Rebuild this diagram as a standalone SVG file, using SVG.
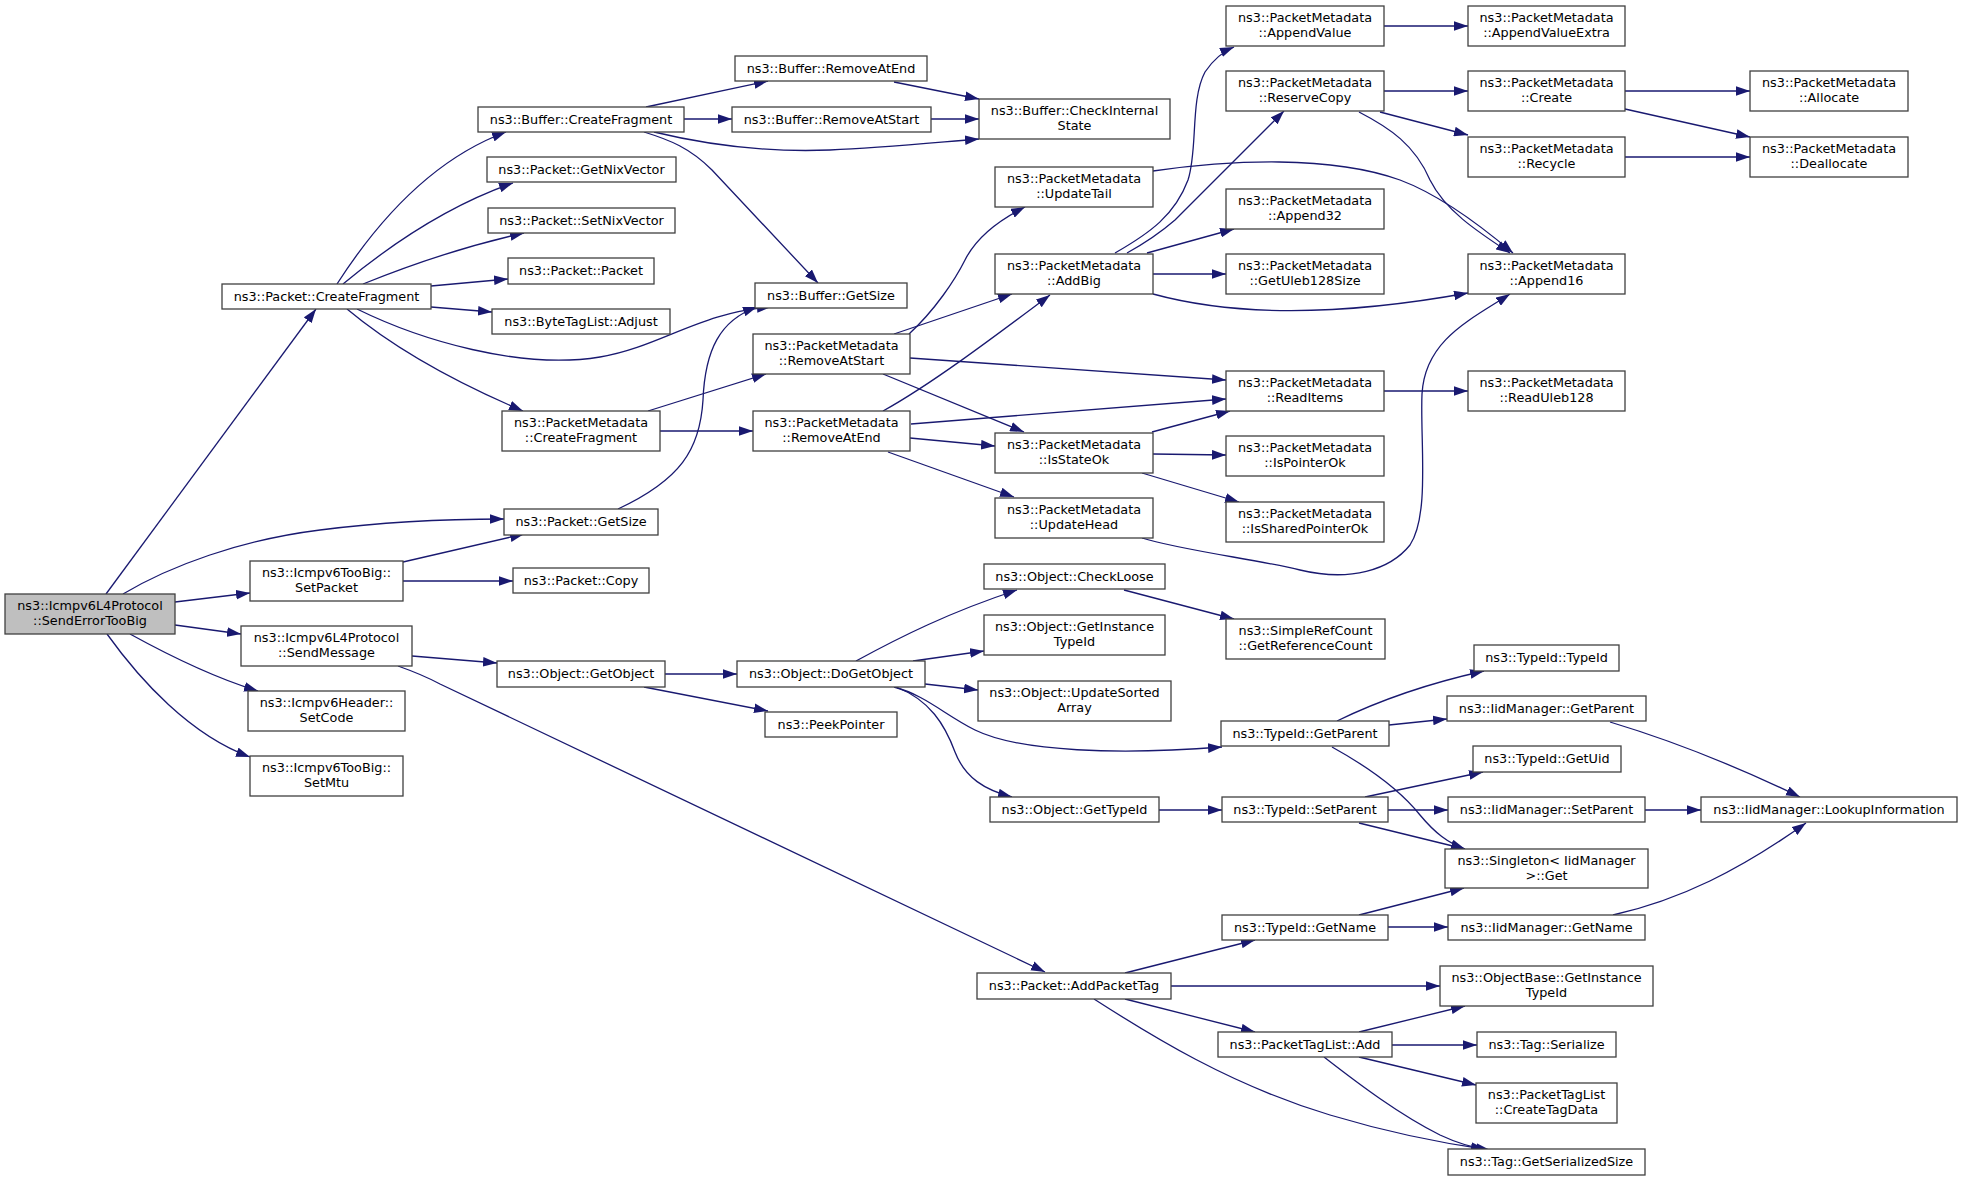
<svg xmlns="http://www.w3.org/2000/svg" width="1963" height="1181" viewBox="0 0 1963 1181">
<defs>
<marker id="ah" markerUnits="userSpaceOnUse" markerWidth="14" markerHeight="10" viewBox="0 0 13 9" refX="13" refY="4.5" orient="auto">
<path d="M0,0 L13,4.5 L0,9 z" fill="#191970"/>
</marker>
<style>
.node rect{fill:#ffffff;stroke:#404040;stroke-width:1.3}
.root rect{fill:#bfbfbf}
.node text{font-family:"DejaVu Sans",Verdana,sans-serif;font-size:12.8px;fill:#000;text-anchor:middle}
.edges path{fill:none;stroke:#191970;stroke-width:1.3;marker-end:url(#ah)}
</style>
</defs>
<rect width="1963" height="1181" fill="#ffffff"/>
<g class="edges" id="edges">
<path d="M106,594 L316,309"/>
<path d="M123,594 C170,566 240,540 320,530 C390,521 450,519 504,519"/>
<path d="M175,602 L250,593"/>
<path d="M175,625 L241,634"/>
<path d="M130,634 C170,656 215,678 258,691"/>
<path d="M107,634 C140,680 190,735 250,757"/>
<path d="M337,284 C375,225 430,160 506,132"/>
<path d="M343,284 C390,245 450,205 513,183"/>
<path d="M363,284 C410,265 470,245 524,233"/>
<path d="M431,286 L508,279"/>
<path d="M431,307 L492,312"/>
<path d="M357,309 C420,340 520,370 600,357 C660,347 700,312 771,307"/>
<path d="M618,509 C680,480 700,450 703,400 C705,350 720,320 757,307"/>
<path d="M347,309 C390,345 450,380 523,411"/>
<path d="M646,107 L768,81"/>
<path d="M684,119 L732,119"/>
<path d="M654,132 C720,148 780,152 830,150 C880,148 930,143 979,139"/>
<path d="M644,132 C670,140 690,148 712,170 L818,283"/>
<path d="M894,82 L979,99"/>
<path d="M931,119 L979,119"/>
<path d="M648,411 L766,374"/>
<path d="M660,431 L753,431"/>
<path d="M403,562 L524,534"/>
<path d="M403,581 L513,581"/>
<path d="M412,656 L497,663"/>
<path d="M398,666 C415,672 425,676 440,684 L1045,972"/>
<path d="M665,674 L737,674"/>
<path d="M644,687 L768,711"/>
<path d="M856,661 C900,637 950,612 1017,590"/>
<path d="M913,661 L984,651"/>
<path d="M925,684 L978,690"/>
<path d="M894,687 C925,695 945,715 975,730 C1020,752 1120,755 1222,747"/>
<path d="M896,687 C930,700 945,725 955,752 C965,778 985,790 1012,797"/>
<path d="M1124,590 L1234,619"/>
<path d="M1337,721 C1380,700 1430,683 1484,671"/>
<path d="M1389,725 L1447,719"/>
<path d="M1332,747 C1370,768 1400,790 1420,815 C1435,833 1448,843 1465,849"/>
<path d="M1365,797 L1483,772"/>
<path d="M1388,810 L1448,810"/>
<path d="M1359,823 L1465,849"/>
<path d="M1159,810 L1222,810"/>
<path d="M1359,915 L1464,888"/>
<path d="M1388,927 L1448,927"/>
<path d="M1610,722 C1670,740 1740,768 1800,797"/>
<path d="M1645,810 L1701,810"/>
<path d="M1613,915 C1680,900 1740,870 1806,823"/>
<path d="M1125,973 L1255,940"/>
<path d="M1171,986 L1440,986"/>
<path d="M1125,999 L1255,1032"/>
<path d="M1094,999 C1150,1035 1230,1085 1330,1115 C1390,1133 1440,1143 1490,1150"/>
<path d="M1359,1032 L1465,1006"/>
<path d="M1392,1045 L1477,1045"/>
<path d="M1359,1057 L1476,1085"/>
<path d="M1324,1057 C1360,1085 1400,1115 1440,1135 C1455,1142 1470,1147 1485,1149"/>
<path d="M909,334 C935,310 955,280 965,260 C975,240 995,222 1025,207"/>
<path d="M894,334 L1012,294"/>
<path d="M910,358 L1226,380"/>
<path d="M883,374 L1024,432"/>
<path d="M883,411 C930,385 990,340 1050,295"/>
<path d="M911,424 L1226,399"/>
<path d="M910,438 L995,446"/>
<path d="M888,452 L1014,497"/>
<path d="M1153,171 C1230,160 1330,155 1400,180 C1440,195 1480,225 1513,253"/>
<path d="M1115,253 C1150,233 1175,215 1188,180 C1198,150 1190,100 1205,72 C1213,60 1222,52 1234,47"/>
<path d="M1127,253 C1145,243 1160,233 1175,220 L1284,111"/>
<path d="M1147,253 L1234,229"/>
<path d="M1153,274 L1226,274"/>
<path d="M1153,294 C1230,315 1330,318 1468,293"/>
<path d="M1384,91 L1468,91"/>
<path d="M1380,112 L1468,135"/>
<path d="M1359,112 C1390,128 1415,145 1430,180 C1445,210 1475,230 1510,253"/>
<path d="M1384,26 L1468,26"/>
<path d="M1625,91 L1750,91"/>
<path d="M1625,109 L1750,137"/>
<path d="M1625,157 L1750,157"/>
<path d="M1152,432 L1230,411"/>
<path d="M1153,454 L1226,455"/>
<path d="M1142,473 L1239,502"/>
<path d="M1142,538 C1180,550 1260,560 1300,570 C1350,582 1390,570 1410,545 C1430,515 1420,440 1422,394 C1425,340 1470,320 1510,294"/>
<path d="M1384,391 L1468,391"/>
</g>
<g id="n1" class="node root"><rect x="5" y="594" width="170" height="40"/><text x="90" y="610.3">ns3::Icmpv6L4Protocol</text><text x="90" y="625.3">::SendErrorTooBig</text></g>
<g id="n2" class="node"><rect x="222" y="284" width="209" height="25"/><text x="326.5" y="300.5">ns3::Packet::CreateFragment</text></g>
<g id="n3" class="node"><rect x="250" y="561" width="153" height="40"/><text x="326.5" y="577.3">ns3::Icmpv6TooBig::</text><text x="326.5" y="592.3">SetPacket</text></g>
<g id="n4" class="node"><rect x="241" y="626" width="171" height="40"/><text x="326.5" y="642.3">ns3::Icmpv6L4Protocol</text><text x="326.5" y="657.3">::SendMessage</text></g>
<g id="n5" class="node"><rect x="248" y="691" width="157" height="40"/><text x="326.5" y="707.3">ns3::Icmpv6Header::</text><text x="326.5" y="722.3">SetCode</text></g>
<g id="n6" class="node"><rect x="250" y="756" width="153" height="40"/><text x="326.5" y="772.3">ns3::Icmpv6TooBig::</text><text x="326.5" y="787.3">SetMtu</text></g>
<g id="n7" class="node"><rect x="478" y="107" width="206" height="25"/><text x="581" y="123.5">ns3::Buffer::CreateFragment</text></g>
<g id="n8" class="node"><rect x="487" y="157" width="189" height="25"/><text x="581.5" y="173.5">ns3::Packet::GetNixVector</text></g>
<g id="n9" class="node"><rect x="488" y="208" width="187" height="25"/><text x="581.5" y="224.5">ns3::Packet::SetNixVector</text></g>
<g id="n10" class="node"><rect x="508" y="258" width="146" height="26"/><text x="581" y="275">ns3::Packet::Packet</text></g>
<g id="n11" class="node"><rect x="492" y="309" width="178" height="25"/><text x="581" y="325.5">ns3::ByteTagList::Adjust</text></g>
<g id="n12" class="node"><rect x="502" y="411" width="158" height="40"/><text x="581" y="427.3">ns3::PacketMetadata</text><text x="581" y="442.3">::CreateFragment</text></g>
<g id="n13" class="node"><rect x="504" y="509" width="154" height="26"/><text x="581" y="526">ns3::Packet::GetSize</text></g>
<g id="n14" class="node"><rect x="513" y="568" width="136" height="25"/><text x="581" y="584.5">ns3::Packet::Copy</text></g>
<g id="n15" class="node"><rect x="497" y="661" width="168" height="26"/><text x="581" y="678">ns3::Object::GetObject</text></g>
<g id="n16" class="node"><rect x="735" y="56" width="192" height="25"/><text x="831" y="72.5">ns3::Buffer::RemoveAtEnd</text></g>
<g id="n17" class="node"><rect x="732" y="107" width="199" height="25"/><text x="831.5" y="123.5">ns3::Buffer::RemoveAtStart</text></g>
<g id="n18" class="node"><rect x="755" y="283" width="152" height="25"/><text x="831" y="299.5">ns3::Buffer::GetSize</text></g>
<g id="n19" class="node"><rect x="753" y="334" width="157" height="40"/><text x="831.5" y="350.3">ns3::PacketMetadata</text><text x="831.5" y="365.3">::RemoveAtStart</text></g>
<g id="n20" class="node"><rect x="753" y="411" width="157" height="40"/><text x="831.5" y="427.3">ns3::PacketMetadata</text><text x="831.5" y="442.3">::RemoveAtEnd</text></g>
<g id="n21" class="node"><rect x="737" y="661" width="188" height="26"/><text x="831" y="678">ns3::Object::DoGetObject</text></g>
<g id="n22" class="node"><rect x="765" y="712" width="132" height="25"/><text x="831" y="728.5">ns3::PeekPointer</text></g>
<g id="n23" class="node"><rect x="977" y="973" width="194" height="26"/><text x="1074" y="990">ns3::Packet::AddPacketTag</text></g>
<g id="n24" class="node"><rect x="979" y="99" width="191" height="40"/><text x="1074.5" y="115.3">ns3::Buffer::CheckInternal</text><text x="1074.5" y="130.3">State</text></g>
<g id="n25" class="node"><rect x="995" y="167" width="158" height="40"/><text x="1074" y="183.3">ns3::PacketMetadata</text><text x="1074" y="198.3">::UpdateTail</text></g>
<g id="n26" class="node"><rect x="995" y="254" width="158" height="40"/><text x="1074" y="270.3">ns3::PacketMetadata</text><text x="1074" y="285.3">::AddBig</text></g>
<g id="n27" class="node"><rect x="995" y="433" width="158" height="40"/><text x="1074" y="449.3">ns3::PacketMetadata</text><text x="1074" y="464.3">::IsStateOk</text></g>
<g id="n28" class="node"><rect x="995" y="498" width="158" height="40"/><text x="1074" y="514.3">ns3::PacketMetadata</text><text x="1074" y="529.3">::UpdateHead</text></g>
<g id="n29" class="node"><rect x="984" y="564" width="181" height="25"/><text x="1074.5" y="580.5">ns3::Object::CheckLoose</text></g>
<g id="n30" class="node"><rect x="984" y="615" width="181" height="40"/><text x="1074.5" y="631.3">ns3::Object::GetInstance</text><text x="1074.5" y="646.3">TypeId</text></g>
<g id="n31" class="node"><rect x="978" y="681" width="193" height="40"/><text x="1074.5" y="697.3">ns3::Object::UpdateSorted</text><text x="1074.5" y="712.3">Array</text></g>
<g id="n32" class="node"><rect x="990" y="797" width="169" height="25"/><text x="1074.5" y="813.5">ns3::Object::GetTypeId</text></g>
<g id="n33" class="node"><rect x="1226" y="6" width="158" height="40"/><text x="1305" y="22.3">ns3::PacketMetadata</text><text x="1305" y="37.3">::AppendValue</text></g>
<g id="n34" class="node"><rect x="1226" y="71" width="158" height="40"/><text x="1305" y="87.3">ns3::PacketMetadata</text><text x="1305" y="102.3">::ReserveCopy</text></g>
<g id="n35" class="node"><rect x="1226" y="189" width="158" height="40"/><text x="1305" y="205.3">ns3::PacketMetadata</text><text x="1305" y="220.3">::Append32</text></g>
<g id="n36" class="node"><rect x="1226" y="254" width="158" height="40"/><text x="1305" y="270.3">ns3::PacketMetadata</text><text x="1305" y="285.3">::GetUleb128Size</text></g>
<g id="n37" class="node"><rect x="1226" y="371" width="158" height="40"/><text x="1305" y="387.3">ns3::PacketMetadata</text><text x="1305" y="402.3">::ReadItems</text></g>
<g id="n38" class="node"><rect x="1226" y="436" width="158" height="40"/><text x="1305" y="452.3">ns3::PacketMetadata</text><text x="1305" y="467.3">::IsPointerOk</text></g>
<g id="n39" class="node"><rect x="1226" y="502" width="158" height="40"/><text x="1305" y="518.3">ns3::PacketMetadata</text><text x="1305" y="533.3">::IsSharedPointerOk</text></g>
<g id="n40" class="node"><rect x="1226" y="619" width="159" height="40"/><text x="1305.5" y="635.3">ns3::SimpleRefCount</text><text x="1305.5" y="650.3">::GetReferenceCount</text></g>
<g id="n41" class="node"><rect x="1221" y="721" width="168" height="25"/><text x="1305" y="737.5">ns3::TypeId::GetParent</text></g>
<g id="n42" class="node"><rect x="1222" y="797" width="166" height="25"/><text x="1305" y="813.5">ns3::TypeId::SetParent</text></g>
<g id="n43" class="node"><rect x="1222" y="915" width="166" height="25"/><text x="1305" y="931.5">ns3::TypeId::GetName</text></g>
<g id="n44" class="node"><rect x="1218" y="1032" width="174" height="25"/><text x="1305" y="1048.5">ns3::PacketTagList::Add</text></g>
<g id="n45" class="node"><rect x="1468" y="6" width="157" height="40"/><text x="1546.5" y="22.3">ns3::PacketMetadata</text><text x="1546.5" y="37.3">::AppendValueExtra</text></g>
<g id="n46" class="node"><rect x="1468" y="71" width="157" height="40"/><text x="1546.5" y="87.3">ns3::PacketMetadata</text><text x="1546.5" y="102.3">::Create</text></g>
<g id="n47" class="node"><rect x="1468" y="137" width="157" height="40"/><text x="1546.5" y="153.3">ns3::PacketMetadata</text><text x="1546.5" y="168.3">::Recycle</text></g>
<g id="n48" class="node"><rect x="1468" y="254" width="157" height="40"/><text x="1546.5" y="270.3">ns3::PacketMetadata</text><text x="1546.5" y="285.3">::Append16</text></g>
<g id="n49" class="node"><rect x="1468" y="371" width="157" height="40"/><text x="1546.5" y="387.3">ns3::PacketMetadata</text><text x="1546.5" y="402.3">::ReadUleb128</text></g>
<g id="n50" class="node"><rect x="1474" y="645" width="145" height="26"/><text x="1546.5" y="662">ns3::TypeId::TypeId</text></g>
<g id="n51" class="node"><rect x="1447" y="696" width="199" height="25"/><text x="1546.5" y="712.5">ns3::IidManager::GetParent</text></g>
<g id="n52" class="node"><rect x="1473" y="746" width="148" height="26"/><text x="1547" y="763">ns3::TypeId::GetUid</text></g>
<g id="n53" class="node"><rect x="1448" y="797" width="197" height="25"/><text x="1546.5" y="813.5">ns3::IidManager::SetParent</text></g>
<g id="n54" class="node"><rect x="1445" y="849" width="203" height="39"/><text x="1546.5" y="865">ns3::Singleton&lt; IidManager</text><text x="1546.5" y="880">&gt;::Get</text></g>
<g id="n55" class="node"><rect x="1448" y="915" width="197" height="25"/><text x="1546.5" y="931.5">ns3::IidManager::GetName</text></g>
<g id="n56" class="node"><rect x="1440" y="966" width="213" height="40"/><text x="1546.5" y="982.3">ns3::ObjectBase::GetInstance</text><text x="1546.5" y="997.3">TypeId</text></g>
<g id="n57" class="node"><rect x="1477" y="1032" width="139" height="25"/><text x="1546.5" y="1048.5">ns3::Tag::Serialize</text></g>
<g id="n58" class="node"><rect x="1476" y="1083" width="141" height="40"/><text x="1546.5" y="1099.3">ns3::PacketTagList</text><text x="1546.5" y="1114.3">::CreateTagData</text></g>
<g id="n59" class="node"><rect x="1448" y="1149" width="197" height="26"/><text x="1546.5" y="1166">ns3::Tag::GetSerializedSize</text></g>
<g id="n60" class="node"><rect x="1750" y="71" width="158" height="40"/><text x="1829" y="87.3">ns3::PacketMetadata</text><text x="1829" y="102.3">::Allocate</text></g>
<g id="n61" class="node"><rect x="1750" y="137" width="158" height="40"/><text x="1829" y="153.3">ns3::PacketMetadata</text><text x="1829" y="168.3">::Deallocate</text></g>
<g id="n62" class="node"><rect x="1701" y="797" width="256" height="25"/><text x="1829" y="813.5">ns3::IidManager::LookupInformation</text></g>
</svg>
